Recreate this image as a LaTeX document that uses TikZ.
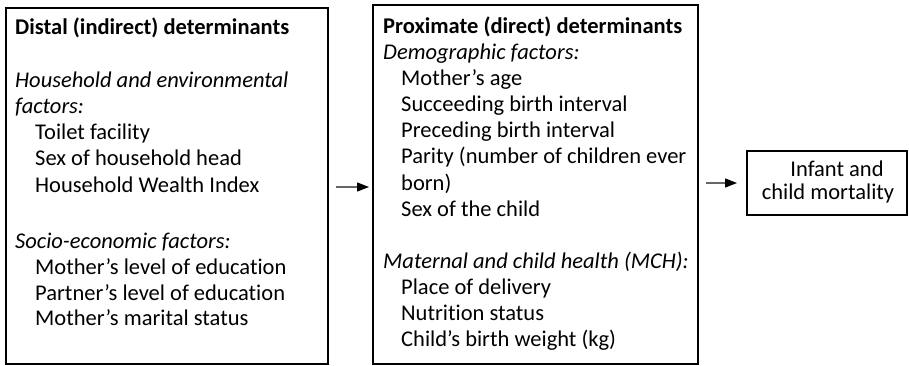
\documentclass[tikz,border=0pt]{standalone}
\usepackage{fontspec}
\setmainfont{Carlito}[Ligatures=NoCommon]
\usetikzlibrary{arrows.meta}
\begin{document}
\begin{tikzpicture}[x=1pt,y=-1pt,
  box/.style={draw=black,line width=2pt,inner sep=0pt,minimum width=#1},
  txt/.style={anchor=base west,inner sep=0pt,font=\fontsize{22.5}{26}\selectfont},
  ttl/.style={txt,font=\fontsize{22.5}{26}\selectfont\bfseries},
  cat/.style={txt,font=\fontsize{22.5}{26}\selectfont\itshape},
  arr/.style={draw=black!60,line width=1.3pt,-{Triangle[length=12pt,width=9pt,fill=black,color=black]}}]
\useasboundingbox (0,0) rectangle (909,366);
\fill[white] (0,0) rectangle (909,366);
% boxes
\node[box=322pt,minimum height=356pt] (d1) at (167,186) {};
\node[box=325pt,minimum height=359pt] (p1) at (535.5,184.5) {};
\node[box=160pt,minimum height=64pt] (o1) at (827,183) {};
% distal text
\node[ttl] (d1t) at (15,35) {Distal (indirect) determinants};
\node[cat] (d1c1) at (15,88) {Household and environmental};
\node[cat] (d1c1b) at (15,114) {factors:};
\node[txt] (d1a) at (35,140) {Toilet facility};
\node[txt] (d1b) at (35,166) {Sex of household head};
\node[txt] (d1c) at (35,192) {Household Wealth Index};
\node[cat] (d1c2) at (15,248) {Socio-economic factors:};
\node[txt] (d1d) at (35,274) {Mother’s level of education};
\node[txt] (d1e) at (35,300) {Partner’s level of education};
\node[txt] (d1f) at (35,325) {Mother’s marital status};
% proximate text
\node[ttl] (p1t) at (383,34) {Proximate (direct) determinants};
\node[cat] (p1c1) at (383,60) {Demographic factors:};
\node[txt] (p1a) at (401,86) {Mother’s age};
\node[txt] (p1b) at (401,112) {Succeeding birth interval};
\node[txt] (p1c) at (401,138) {Preceding birth interval};
\node[txt] (p1d) at (401,164) {Parity (number of children ever};
\node[txt] (p1e) at (401,190) {born)};
\node[txt] (p1f) at (401,216) {Sex of the child};
\node[cat] (p1c2) at (383,268) {Maternal and child health (MCH):};
\node[txt] (p1g) at (401,294) {Place of delivery};
\node[txt] (p1h) at (401,320) {Nutrition status};
\node[txt] (p1i) at (401,346) {Child’s birth weight (kg)};
% outcome text
\node[txt,anchor=base] (o1a) at (837,176) {Infant and};
\node[txt,anchor=base] (o1b) at (828,199) {child mortality};
% arrows
\draw[arr,shorten <=7pt,shorten >=3pt] ([yshift=-1pt]d1.east) -- ([yshift=-1pt]d1.east -| p1.west);
\draw[arr,shorten <=7pt,shorten >=9pt] ([yshift=1.5pt]p1.east) -- ([yshift=1.5pt]p1.east -| o1.west);
\end{tikzpicture}
\end{document}
